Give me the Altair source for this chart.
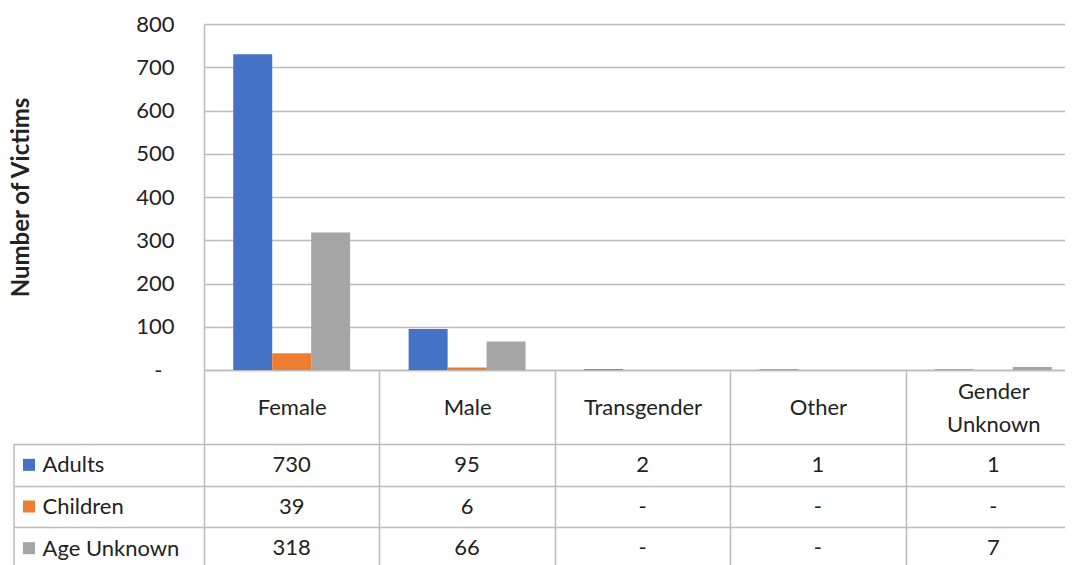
import altair as alt
import pandas as pd

genders = ["Female", "Male", "Transgender", "Other", "Gender Unknown"]
series = ["Adults", "Children", "Age Unknown"]
adults = [730, 95, 2, 1, 1]
children = [39, 6, None, None, None]
age_unknown = [318, 66, None, None, 7]
colors = ["#4472C4", "#ED7D31", "#A5A5A5"]
y_ticks = [0, 100, 200, 300, 400, 500, 600, 700, 800]

rows = []
for s, vals in zip(series, [adults, children, age_unknown]):
    for g, v in zip(genders, vals):
        rows.append({"gender": g, "series": s, "value": v,
                     "label": "-" if v is None else str(v)})
df = pd.DataFrame(rows)

W = 877
H = 346
HEADER_H = 74
ROW_H = 125
LINE = "#BBBBBB"
TXT = "#222222"
FONT = "Lato"

color_scale = alt.Scale(domain=series, range=colors)

bars = alt.Chart(df).transform_filter("datum.value != null").mark_bar().encode(
    x=alt.X("gender:N", sort=genders,
            scale=alt.Scale(paddingInner=0, paddingOuter=0),
            axis=alt.Axis(title=None, orient="bottom", domain=True, domainColor=LINE,
                          domainWidth=1.5, ticks=True, tickBand="extent", tickSize=HEADER_H,
                          tickColor=LINE, tickWidth=1.5, labelAngle=0,
                          labelPadding={"condition": {"test": "datum.value == 'Gender Unknown'",
                                                      "value": -69}, "value": -53},
                          labelBaseline="line-top", labelLineHeight=33,
                          labelFontSize=22, labelFont=FONT, labelColor=TXT,
                          labelOverlap=False,
                          labelExpr="datum.label == 'Gender Unknown' ? ['Gender', 'Unknown'] : datum.label")),
    xOffset=alt.XOffset("series:N", sort=series, scale=alt.Scale(paddingOuter=0.75, paddingInner=0)),
    y=alt.Y("value:Q", scale=alt.Scale(domain=[0, 800], nice=False),
            axis=alt.Axis(title="Number of Victims", values=y_ticks, grid=True,
                          gridColor=LINE, gridWidth=1.5, domain=True, domainColor=LINE,
                          domainWidth=1.5, ticks=False,
                          labelPadding={"condition": {"test": "datum.value == 0", "value": 42},
                                        "value": 30},
                          labelFontSize=22, labelFont=FONT, labelColor=TXT,
                          labelExpr="datum.value == 0 ? '-' : datum.label",
                          titleFont=FONT, titleFontSize=24, titleFontWeight="bold",
                          titleColor=TXT, titlePadding=102)),
    color=alt.Color("series:N", scale=color_scale, legend=None),
).properties(width=W, height=H)

cells = alt.Chart(df).mark_text(font=FONT, fontSize=22, color=TXT).encode(
    x=alt.X("gender:N", sort=genders, scale=alt.Scale(paddingInner=0, paddingOuter=0),
            axis=alt.Axis(title=None, orient="top", labels=False, ticks=False, domain=False,
                          grid=True, tickBand="extent", gridColor=LINE, gridWidth=1.5)),
    y=alt.Y("series:N", sort=series, scale=alt.Scale(paddingInner=0, paddingOuter=0),
            axis=alt.Axis(title=None, orient="left", domain=False, ticks=True,
                          tickBand="extent", tickSize=190, tickColor=LINE, tickWidth=1.5,
                          grid=True, gridColor=LINE, gridWidth=1.5,
                          labelAlign="left", labelPadding=-28, labelBaseline="middle",
                          labelFontSize=22, labelFont=FONT, labelColor=TXT)),
    text="label:N",
)

keys = alt.Chart(pd.DataFrame({"series": series})).mark_point(
    shape="square", filled=True, size=144, opacity=1).encode(
    x=alt.value(-175),
    y=alt.Y("series:N", sort=series),
    color=alt.Color("series:N", scale=color_scale, legend=None),
)

border = alt.Chart(pd.DataFrame({"a": [0]})).mark_rule(color=LINE, strokeWidth=1.5).encode(
    x=alt.value(-190), y=alt.value(0), y2=alt.value(ROW_H))

table = alt.layer(cells, keys, border).properties(width=W, height=ROW_H)

chart = alt.vconcat(bars, table, spacing=HEADER_H, bounds="flush").properties(
    padding={"left": 1, "top": 5, "right": -17, "bottom": 0}
).configure_view(stroke=None)

chart.save("out.html", embed_options={"renderer": "svg", "actions": False})
